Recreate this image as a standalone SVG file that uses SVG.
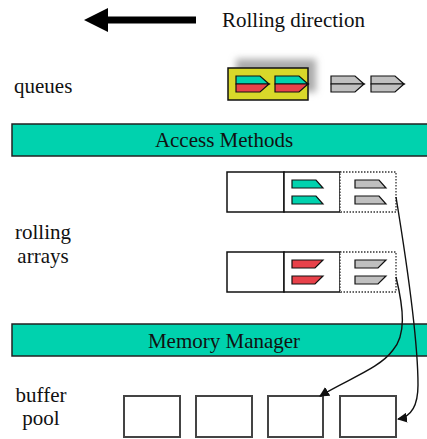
<svg xmlns="http://www.w3.org/2000/svg" width="427" height="439" viewBox="0 0 427 439">
  <style>
    text { font-family: "Liberation Serif", "Times New Roman", serif; font-size: 21px; fill: #111; }
    .bar { fill: #00d2ae; stroke: #222; stroke-width: 1.5; }
    .cell { fill: #fff; stroke: #111; stroke-width: 1.5; }
    .dotted { fill: #fff; stroke: #333; stroke-width: 1.3; stroke-dasharray: 1.5 1.5; }
    .buf { fill: #fff; stroke: #444; stroke-width: 2; }
    .teal { fill: #00d2ae; stroke: #111; stroke-width: 1.2; }
    .red { fill: #e8414a; stroke: #111; stroke-width: 1.2; }
    .grey { fill: #c0c0c0; stroke: #111; stroke-width: 1.2; }
    .link { fill: none; stroke: #111; stroke-width: 1.4; }
  </style>
  <defs>
    <filter id="soft" x="-30%" y="-30%" width="160%" height="160%">
      <feGaussianBlur stdDeviation="3.5"/>
    </filter>
    <marker id="head" viewBox="0 0 10 10" refX="9" refY="5" markerWidth="10" markerHeight="10" markerUnits="userSpaceOnUse" orient="auto">
      <path d="M0,0 L10,5 L0,10 Z" fill="#111"/>
    </marker>
    <!-- queue element: two-tone chevron -->
    <g id="chevTop"><path d="M0,0 H24 L33,8 H0 Z"/></g>
    <g id="chevBot"><path d="M0,8 H33 L24,16 H0 Z"/></g>
    <!-- array slot shapes -->
    <path id="slotDown" d="M0,0 H24 L31,8 H0 Z"/>
    <path id="slotUp" d="M0,0 H31 L23,8 H0 Z"/>
  </defs>

  <!-- rolling direction indicator -->
  <g id="direction">
    <path d="M196,16.5 H108 V8 L84,20 L108,32 V23.5 H196 Z" fill="#000"/>
    <text x="222" y="27">Rolling direction</text>
  </g>

  <!-- queues -->
  <g id="queues">
    <text x="14" y="93">queues</text>
    <rect x="236" y="59" width="80" height="33" fill="#aaa" filter="url(#soft)"/>
    <rect x="228" y="68" width="80" height="32" fill="#d8d82a" stroke="#111" stroke-width="1.5"/>
    <g transform="translate(236,76)">
      <use href="#chevTop" class="teal"/>
      <use href="#chevBot" class="red"/>
    </g>
    <g transform="translate(275,76)">
      <use href="#chevTop" class="teal"/>
      <use href="#chevBot" class="red"/>
    </g>
    <g transform="translate(331,76)">
      <use href="#chevTop" class="grey"/>
      <use href="#chevBot" class="grey"/>
    </g>
    <g transform="translate(371,76)">
      <use href="#chevTop" class="grey"/>
      <use href="#chevBot" class="grey"/>
    </g>
  </g>

  <!-- access methods layer -->
  <g id="access-methods">
    <rect class="bar" x="12" y="124" width="420" height="32"/>
    <text x="224" y="147" text-anchor="middle">Access Methods</text>
  </g>

  <!-- rolling arrays -->
  <g id="rolling-arrays-label">
    <text x="43" y="239" text-anchor="middle">rolling</text>
    <text x="43" y="263" text-anchor="middle">arrays</text>
  </g>
  <g id="array-1">
    <rect class="cell" x="227" y="172" width="57" height="40"/>
    <rect class="cell" x="284" y="172" width="56" height="40"/>
    <rect class="dotted" x="340" y="172" width="56" height="40"/>
    <use href="#slotDown" class="teal" x="292" y="180"/>
    <use href="#slotDown" class="teal" x="292" y="196"/>
    <use href="#slotDown" class="grey" x="355" y="180"/>
    <use href="#slotDown" class="grey" x="355" y="196"/>
  </g>
  <g id="array-2">
    <rect class="cell" x="227" y="252" width="57" height="40"/>
    <rect class="cell" x="284" y="252" width="56" height="40"/>
    <rect class="dotted" x="340" y="252" width="56" height="40"/>
    <use href="#slotUp" class="red" x="292" y="260"/>
    <use href="#slotUp" class="red" x="292" y="276"/>
    <use href="#slotUp" class="grey" x="355" y="260"/>
    <use href="#slotUp" class="grey" x="355" y="276"/>
  </g>

  <!-- memory manager layer -->
  <g id="memory-manager">
    <rect class="bar" x="12" y="324" width="420" height="32"/>
    <text x="224" y="348" text-anchor="middle">Memory Manager</text>
  </g>

  <!-- buffer pool -->
  <g id="buffer-pool-label">
    <text x="41" y="402" text-anchor="middle">buffer</text>
    <text x="41" y="425" text-anchor="middle">pool</text>
  </g>
  <g id="buffer-1"><rect class="buf" x="124" y="396" width="56" height="41"/></g>
  <g id="buffer-2"><rect class="buf" x="196" y="396" width="56" height="41"/></g>
  <g id="buffer-3"><rect class="buf" x="268" y="396" width="55" height="41"/></g>
  <g id="buffer-4"><rect class="buf" x="340" y="396" width="56" height="41"/></g>

  <!-- connectors -->
  <g id="connectors">
    <path class="link" d="M396,197 C408,270 418,340 418,385 C418,405 411,417 398,419" marker-end="url(#head)"/>
    <path class="link" d="M396,277 C404,310 406,335 393,350 C380,368 350,378 320,396" marker-end="url(#head)"/>
  </g>
</svg>
